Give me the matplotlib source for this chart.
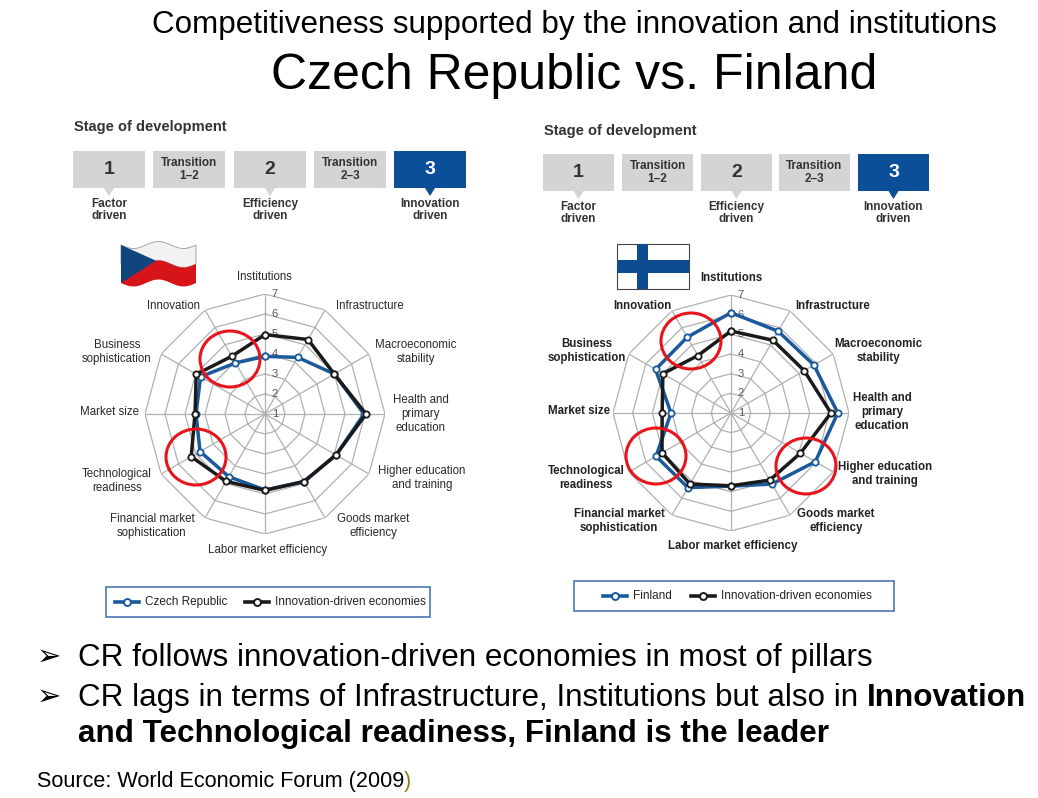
import numpy as np
import matplotlib.pyplot as plt
from matplotlib.patches import Rectangle, Polygon, Ellipse

W, H = 1038, 798

pillars = ['Institutions', 'Infrastructure', 'Macroeconomic\nstability',
           'Health and\nprimary\neducation', 'Higher education\nand training',
           'Goods market\nefficiency', 'Labor market efficiency',
           'Financial market\nsophistication', 'Technological\nreadiness',
           'Market size', 'Business\nsophistication', 'Innovation']

czech = [3.88, 4.27, 5.0, 5.95, 5.1, 4.9, 4.8, 4.62, 4.75, 4.45, 4.72, 3.95]
innov_cz = [4.97, 5.3, 5.0, 6.05, 5.1, 4.9, 4.82, 4.89, 5.26, 4.5, 4.97, 4.33]
finland = [6.1, 5.8, 5.87, 6.43, 5.95, 5.17, 4.72, 5.38, 5.4, 4.05, 5.43, 5.45]
innov_fi = [5.17, 5.27, 5.3, 6.08, 5.08, 4.94, 4.7, 5.17, 5.05, 4.5, 5.0, 4.37]

stages = ['1', 'Transition\n1\u20132', '2', 'Transition\n2\u20133', '3']
stage_names = ['Factor\ndriven', 'Efficiency\ndriven', 'Innovation\ndriven']
rings = [2, 3, 4, 5, 6, 7]

BLUE = '#1a5a9c'
DARK = '#1a1a1a'
GRID = '#b0b0b0'
BOXGREY = '#d3d4d6'
BOXBLUE = '#0b4f98'
NARROW = ['Liberation Sans', 'DejaVu Sans']
ARIAL = 'Liberation Sans'

fig = plt.figure(figsize=(W / 100, H / 100), dpi=100)


def radar(cx, cy, rad, country, innov):
    ax = fig.add_axes([(cx - rad) / W, 1 - (cy + rad) / H, 2 * rad / W, 2 * rad / H],
                      projection='polar')
    ax.set_theta_zero_location('N')
    ax.set_theta_direction(-1)
    ax.set_ylim(1, 7)
    ax.axis('off')
    th = np.linspace(0, 2 * np.pi, len(pillars), endpoint=False)
    thc = np.append(th, th[0])
    for r in rings:
        ax.plot(thc, [r] * len(thc), color=GRID, lw=0.9, zorder=1)
    for t in th:
        ax.plot([t, t], [1, 7], color=GRID, lw=0.9, zorder=1)
    for r in range(1, 8):
        ax.annotate(str(r), (0, r), xytext=(7, 0), textcoords='offset points',
                    ha='center', va='center', fontsize=8, color='#555555',
                    family=NARROW, zorder=2)
    ax.plot(thc, np.append(country, country[0]), color=BLUE, lw=2.5, marker='o',
            ms=4.5, mfc='white', mec=BLUE, mew=1.3, zorder=3)
    ax.plot(thc, np.append(innov, innov[0]), color=DARK, lw=2.5, marker='o',
            ms=4.5, mfc='white', mec=DARK, mew=1.3, zorder=4)
    return ax


radar(265, 414, 120, czech, innov_cz)
radar(731, 413, 118, finland, innov_fi)

# overlay in pixel coordinates for all the slide decoration
ov = fig.add_axes([0, 0, 1, 1], zorder=5)
ov.set_xlim(0, W)
ov.set_ylim(H, 0)
ov.axis('off')
ov.patch.set_alpha(0)

ov.text(574, 25, 'Competitiveness supported by the innovation and institutions',
        ha='center', va='center', fontsize=22.6, family=ARIAL)
ov.text(574, 76, 'Czech Republic vs. Finland', ha='center', va='center',
        fontsize=36, family=ARIAL)

# pillar labels
lab_cz = [(264, 277), (370, 306), (416, 352), (421, 414), (422, 478), (373, 526),
          (268, 550), (152, 526), (117, 481), (110, 412), (117, 352), (174, 306)]
lab_fi = [(731, 278), (833, 306), (878, 351), (882, 412), (885, 474), (836, 521),
          (733, 546), (619, 521), (586, 478), (579, 411), (587, 351), (642, 306)]
for (x, y), p in zip(lab_cz, pillars):
    ov.text(x, y, p, ha='center', va='center', fontsize=8.3, family=NARROW,
            color='#2a2a2a', linespacing=1.25)
for (x, y), p in zip(lab_fi, pillars):
    ov.text(x, y, p, ha='center', va='center', fontsize=8.3, family=NARROW,
            color='#222222', linespacing=1.25, fontweight='bold')


def stage_panel(x0, ytitle, ytop, ybot, lefts, w, ylab):
    ov.text(x0, ytitle, 'Stage of development', ha='left', va='center',
            fontsize=10.5, fontweight='bold', family=NARROW, color='#333333')
    for i, (lx, s) in enumerate(zip(lefts, stages)):
        fc = BOXBLUE if i == 4 else BOXGREY
        tc = 'white' if i == 4 else '#333333'
        ov.add_patch(Rectangle((lx, ytop), w, ybot - ytop, fc=fc, ec='none'))
        big = len(s) == 1
        ov.text(lx + w / 2, (ytop + ybot) / 2, s, ha='center', va='center',
                fontsize=14 if big else 8.5, fontweight='bold', family=NARROW,
                color=tc, linespacing=1.05)
        if i % 2 == 0:
            mx = lx + w / 2
            ov.add_patch(Polygon([(mx - 5, ybot), (mx + 5, ybot), (mx, ybot + 8)],
                                 fc=fc, ec='none'))
            ov.text(mx, ylab, stage_names[i // 2], ha='center', va='center',
                    fontsize=8.5, fontweight='bold', family=NARROW, color='#333333',
                    linespacing=1.0)


stage_panel(74, 127, 151, 188, [73, 153, 234, 314, 394], 72, 210)
stage_panel(544, 131, 154, 191, [543, 622, 701, 779, 858], 71, 213)

# czech flag (wavy)
xs = np.linspace(121, 196, 40)
wave = 3.5 * np.sin((xs - 121) / 75 * 3.0 * np.pi)
top = 245 + wave
bot = 283 + wave
mid = (top + bot) / 2
ov.add_patch(Polygon(np.column_stack([np.r_[xs, xs[::-1]], np.r_[top, mid[::-1]]]),
                     fc='#f2f2f2', ec='#999999', lw=0.6))
ov.add_patch(Polygon(np.column_stack([np.r_[xs, xs[::-1]], np.r_[mid, bot[::-1]]]),
                     fc='#d7141a', ec='none'))
ov.add_patch(Polygon([(121, top[0]), (156, mid[18]), (121, bot[0])], fc='#11457e', ec='none'))

# finnish flag
ov.add_patch(Rectangle((617, 244), 72, 45, fc='white', ec='#444444', lw=0.8))
ov.add_patch(Rectangle((637, 244), 11, 45, fc='#0d4c93', ec='none'))
ov.add_patch(Rectangle((617, 260), 72, 13, fc='#0d4c93', ec='none'))

# red circles
for cx, cy in [(230, 359), (196, 457), (691, 341), (656, 456), (806, 466)]:
    ov.add_patch(Ellipse((cx, cy), 60, 56, fc='none', ec='#e8141b', lw=2.2))


def legend_box(x0, y0, x1, y1, s1x, name, s2x):
    ov.add_patch(Rectangle((x0, y0), x1 - x0, y1 - y0, fc='white', ec='#4a78b5', lw=1.2))
    yc = (y0 + y1) / 2
    for sx, col, txt in [(s1x, BLUE, name), (s2x, DARK, 'Innovation-driven economies')]:
        ov.plot([sx, sx + 24], [yc, yc], color=col, lw=2.6)
        ov.plot([sx + 12], [yc], marker='o', ms=5, mfc='white', mec=col, mew=1.4)
        ov.text(sx + 30, yc, txt, ha='left', va='center', fontsize=8.5,
                family=NARROW, color='#222222')


legend_box(106, 587, 430, 617, 115, 'Czech Republic', 245)
legend_box(574, 581, 894, 611, 603, 'Finland', 691)

# bullets
fig.canvas.draw()
rend = fig.canvas.get_renderer()
for y in [657, 697]:
    ov.text(37, y, '\u27a2', ha='left', va='center', fontsize=21, family='DejaVu Sans')
ov.text(78, 658, 'CR follows innovation-driven economies in most of pillars',
        ha='left', va='center', fontsize=22.6, family=ARIAL)
t = ov.text(78, 698, 'CR lags in terms of Infrastructure, Institutions but also in ',
            ha='left', va='center', fontsize=22.6, family=ARIAL)
bb = t.get_window_extent(renderer=rend)
xend = ov.transData.inverted().transform((bb.x1, bb.y0))[0]
ov.text(xend, 698, 'Innovation', ha='left', va='center', fontsize=22.6,
        fontweight='bold', family=ARIAL)
ov.text(78, 734, 'and Technological readiness, Finland is the leader', ha='left',
        va='center', fontsize=22.6, fontweight='bold', family=ARIAL)

s = ov.text(37, 782, 'Source: World Economic Forum (2009', ha='left', va='center',
            fontsize=15.6, family=ARIAL)
bb = s.get_window_extent(renderer=rend)
xend = ov.transData.inverted().transform((bb.x1, bb.y0))[0]
ov.text(xend, 782, ')', ha='left', va='center', fontsize=15.6, color='#8c7a1c',
        family=ARIAL)

fig.savefig('out.png', dpi=100)
